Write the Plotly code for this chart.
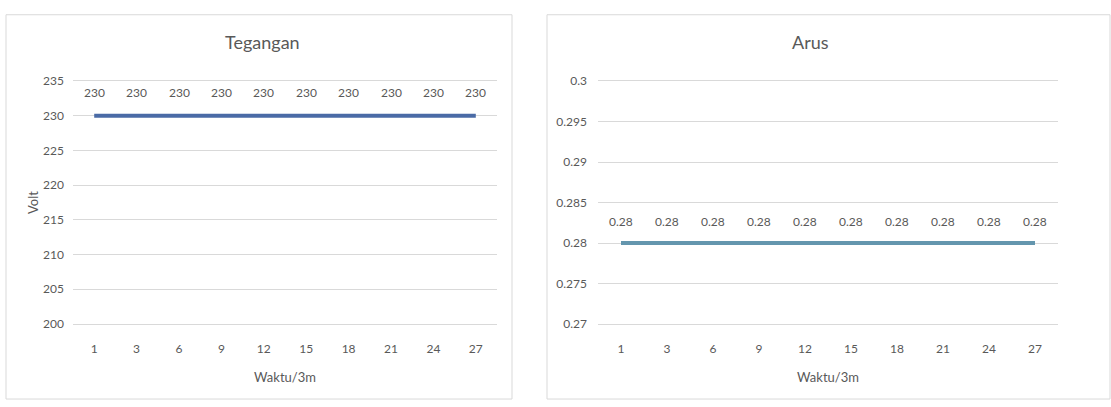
import plotly.graph_objects as go

W, H = 1111, 407

waktu = ["1", "3", "6", "9", "12", "15", "18", "21", "24", "27"]
tegangan = [230, 230, 230, 230, 230, 230, 230, 230, 230, 230]
arus = [0.28, 0.28, 0.28, 0.28, 0.28, 0.28, 0.28, 0.28, 0.28, 0.28]

FONT = "Lato, Carlito, 'Liberation Sans', sans-serif"
TXT = "#595959"
GRID = "#d9d9d9"

def px(x):
    return x / W

def py(y):
    return 1 - y / H

fig = go.Figure()

fig.add_trace(go.Scatter(
    x=waktu, y=tegangan, mode="lines", xaxis="x", yaxis="y",
    line=dict(color="#4a6ba6", width=4),
    showlegend=False, hoverinfo="x+y"))

fig.add_trace(go.Scatter(
    x=waktu, y=arus, mode="lines", xaxis="x2", yaxis="y2",
    line=dict(color="#6496ae", width=4),
    showlegend=False, hoverinfo="x+y"))

annotations = []
for i, yv in enumerate(tegangan):
    annotations.append(dict(x=i, y=yv, xref="x", yref="y", text=str(yv),
                            showarrow=False, yshift=23,
                            font=dict(family=FONT, size=12, color=TXT)))
for i, yv in enumerate(arus):
    annotations.append(dict(x=i, y=yv, xref="x2", yref="y2", text=f"{yv:.2f}",
                            showarrow=False, yshift=22,
                            font=dict(family=FONT, size=12, color=TXT)))

ydom = [py(328), py(76)]
xrange_cat = [-0.5, len(waktu) - 0.5]

axis_common = dict(zeroline=False, ticks="",
                   tickfont=dict(family=FONT, size=12, color=TXT))

xtitle = dict(text="Waktu/3m", font=dict(family=FONT, size=13, color=TXT), standoff=17)

fig.update_layout(
    width=W, height=H,
    margin=dict(l=0, r=0, t=0, b=0),
    paper_bgcolor="white", plot_bgcolor="white",
    font=dict(family=FONT, color=TXT),
    xaxis=dict(domain=[px(73), px(497)], anchor="y", type="category",
               range=xrange_cat, tickangle=0,
               showgrid=False, ticklabelstandoff=14, showline=True, mirror=True,
               linecolor=GRID, linewidth=1, title=xtitle, **axis_common),
    yaxis=dict(domain=ydom, anchor="x", range=[200, 235], dtick=5,
               showgrid=True, gridcolor=GRID, gridwidth=1, ticklabelstandoff=8,
               showline=False,
               title=dict(text="Volt", font=dict(family=FONT, size=13, color=TXT), standoff=1),
               **axis_common),
    xaxis2=dict(domain=[px(598), px(1058)], anchor="y2", type="category",
                range=xrange_cat, tickangle=0,
                showgrid=False, ticklabelstandoff=14, showline=True, mirror=True,
                linecolor=GRID, linewidth=1, title=xtitle, **axis_common),
    yaxis2=dict(domain=ydom, anchor="x2", range=[0.27, 0.30], dtick=0.005,
                tickformat="~g", showgrid=True, gridcolor=GRID, gridwidth=1,
                ticklabelstandoff=10, showline=False, **axis_common),
    shapes=[
        dict(type="rect", xref="paper", yref="paper",
             x0=px(6), x1=px(512), y0=py(406), y1=py(7),
             line=dict(color=GRID, width=1), fillcolor="rgba(0,0,0,0)", layer="below"),
        dict(type="rect", xref="paper", yref="paper",
             x0=px(547), x1=px(1110), y0=py(406), y1=py(7),
             line=dict(color=GRID, width=1), fillcolor="rgba(0,0,0,0)", layer="below"),
    ],
    annotations=annotations + [
        dict(text="Tegangan", xref="paper", yref="paper", x=px(262), y=py(35),
             showarrow=False, xanchor="center", yanchor="middle",
             font=dict(family=FONT, size=18, color=TXT)),
        dict(text="Arus", xref="paper", yref="paper", x=px(810), y=py(35),
             showarrow=False, xanchor="center", yanchor="middle",
             font=dict(family=FONT, size=18, color=TXT)),
    ],
)

fig.write_html("out.html")
